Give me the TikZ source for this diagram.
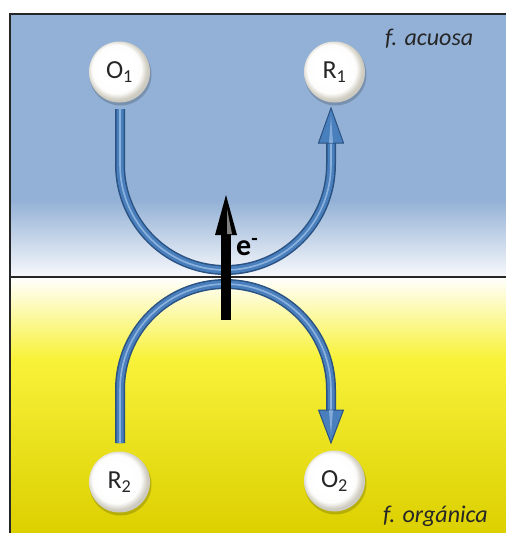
\documentclass[tikz,border=0pt]{standalone}
\usepackage{fontspec}
\setmainfont{Carlito}
\definecolor{bgblue}{HTML}{93B1D6}
\definecolor{bgwhite}{HTML}{F8F9FC}
\definecolor{ylw}{HTML}{F8F23A}
\definecolor{ylwdark}{HTML}{DCD000}
\definecolor{tubedark}{HTML}{2A5283}
\definecolor{tubemid}{HTML}{4A7FBD}
\definecolor{tubelight}{HTML}{A8C9EC}
\definecolor{cream}{HTML}{D6D3C8}
\pgfdeclareradialshading{pearl}{\pgfpoint{-4bp}{4bp}}{%
  color(0bp)=(white); color(13bp)=(white); color(20bp)=(white!95!cream);
  color(24bp)=(cream); color(25bp)=(cream!90!gray); color(50bp)=(cream!90!gray)}
\tikzset{
  ball/.style={circle, minimum size=61pt, inner sep=0pt, shading=pearl,
    font=\fontsize{26}{30}\selectfont, text=black!85},
  tubeouter/.style={draw=tubedark, line width=10pt},
  tubeinner/.style={draw=tubemid, line width=7pt},
  tubehi/.style={draw=tubelight, line width=1.6pt, opacity=0.7},
  headstyle/.style={fill=tubemid, draw=tubedark, line width=1pt, line join=miter},
  phase/.style={font=\fontsize{24}{28}\selectfont\itshape, text=black!85, anchor=base west, inner sep=0pt}
}
\begin{document}
\begin{tikzpicture}[x=1pt,y=-1pt]
\useasboundingbox (0,0) rectangle (506,533);
\fill[white] (0,0) rectangle (506,533);
% backgrounds
\fill[bgblue] (10,14) rectangle (506,201);
\shade[top color=bgblue, bottom color=bgwhite] (10,200) rectangle (506,277);
\shade[top color=white, bottom color=ylw] (10,277) rectangle (506,358);
\shade[top color=ylw, bottom color=ylwdark] (10,357) rectangle (506,533);
\draw[black!85, line width=2.4pt] (10,533) -- (10,14) -- (506,14);
\draw[black!85, line width=1.4pt] (10,277) -- (506,277);
% balls
\foreach \x/\y in {119.5/72, 334.5/72, 119.5/482, 334.5/481}
  \fill[black, opacity=0.18] (\x+1,\y+2.5) circle (31pt);
\node[ball] (O1) at (119.5,72) {O\textsubscript{1}};
\node[ball] (R1) at (334.5,72) {R\textsubscript{1}};
\node[ball] (R2) at (119.5,482) {R\textsubscript{2}};
\node[ball] (O2) at (334.5,481) {O\textsubscript{2}};
% tube coordinates
\coordinate (t1s) at (120,109);
\coordinate (t1b) at (331,143);
\coordinate (t1tip) at (331,108);
\coordinate (t2s) at (120,443);
\coordinate (t2b) at (331,410);
\coordinate (t2tip) at (331,443);
% top U
\foreach \s in {tubeouter,tubeinner,tubehi}
  \draw[\s] (t1s) -- (120,164.5) arc[start angle=180, end angle=0, radius=105.5] -- (t1b);
\draw[headstyle] ([xshift=-12.5pt]t1b) -- ([xshift=12.5pt]t1b) -- (t1tip) -- cycle;
\fill[tubelight, opacity=0.6] ([xshift=-2pt]t1b) -- ([xshift=2pt]t1b) -- ([yshift=-8pt]t1tip) -- cycle;
% bottom arch
\foreach \s in {tubeouter,tubeinner,tubehi}
  \draw[\s] (t2s) -- (120,389.5) arc[start angle=180, end angle=360, radius=105.5] -- (t2b);
\draw[headstyle] ([xshift=-12.5pt]t2b) -- ([xshift=12.5pt]t2b) -- (t2tip) -- cycle;
\fill[tubelight, opacity=0.6] ([xshift=-2pt]t2b) -- ([xshift=2pt]t2b) -- ([yshift=8pt]t2tip) -- cycle;
% electron arrow
\coordinate (eb) at (226,320);
\coordinate (eh) at (226,235);
\coordinate (et) at (226,195);
\draw[black, line width=10pt] (eb) -- (eh);
\fill[black] ([xshift=-11pt]eh) -- ([xshift=11pt]eh) -- (et) -- cycle;
\fill[white, opacity=0.5] ([xshift=1pt,yshift=1pt]eh) -- ([xshift=6pt,yshift=1pt]eh) -- ([xshift=1pt,yshift=-14pt]et) -- cycle;
\node[anchor=base west, inner sep=0pt, font=\fontsize{30}{34}\selectfont\bfseries] (e) at (236,255) {e\textsuperscript{-}};
% phase labels
\node[phase] (aq) at (385,45) {f. acuosa};
\node[phase] (org) at (383,522) {f. orgánica};
\end{tikzpicture}
\end{document}
